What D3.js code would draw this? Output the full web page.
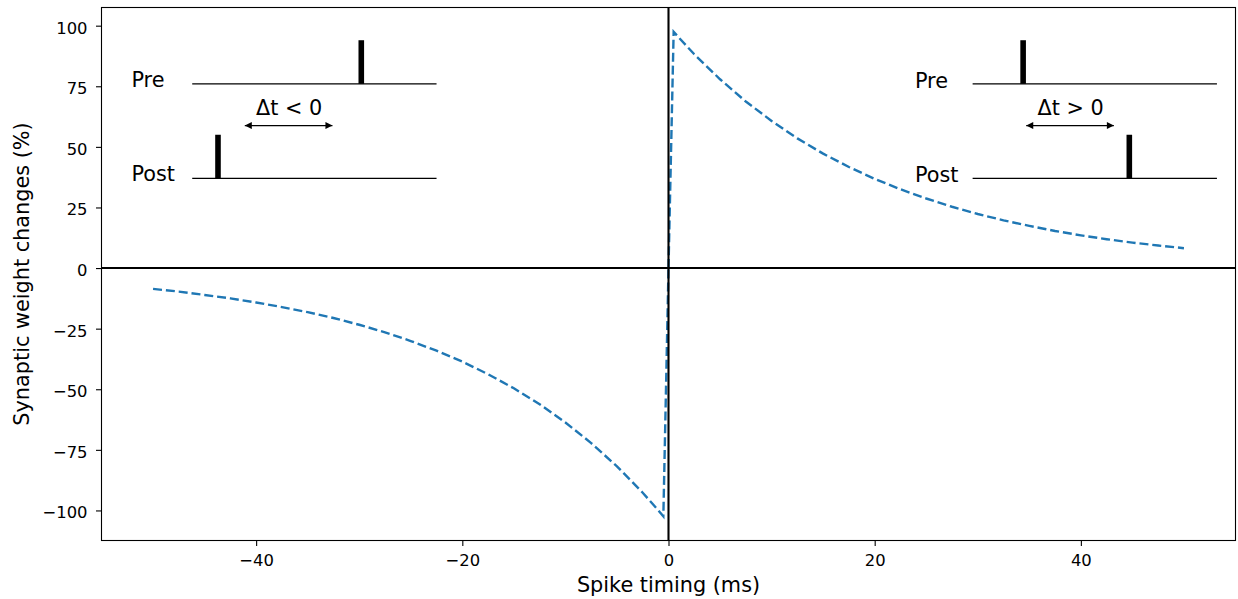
<!DOCTYPE html>
<html>
<head>
<meta charset="utf-8">
<script src="https://cdn.jsdelivr.net/npm/d3@7"></script>
<style>
  body { margin: 0; background: #fff; }
  text { font-family: "DejaVu Sans", sans-serif; }
</style>
</head>
<body>
<div id="chart"></div>
<script>
// data: spike timing (ms) vs weight change (%)
var ltd_t = [-50, -47.5, -45, -42.5, -40, -37.5, -35, -32.5, -30, -27.5, -25, -22.5, -20, -17.5, -15, -12.5, -10, -7.5, -5, -2.5, -1, -0.5, 0];
var ltd_w = [-8.6, -9.7, -11.1, -12.5, -14.2, -16.1, -18.2, -20.6, -23.4, -26.5, -30.1, -34.1, -38.6, -43.8, -49.6, -56.2, -63.7, -72.2, -81.8, -92.7, -99.9, -102.4, 0];
var ltp_t = [0, 0.5, 1, 2.5, 5, 7.5, 10, 12.5, 15, 17.5, 20, 22.5, 25, 27.5, 30, 32.5, 35, 37.5, 40, 42.5, 45, 47.5, 50];
var ltp_w = [0, 97.5, 95.1, 88.2, 77.9, 68.7, 60.7, 53.5, 47.2, 41.7, 36.8, 32.5, 28.7, 25.3, 22.3, 19.7, 17.4, 15.3, 13.5, 11.9, 10.5, 9.3, 8.2];
var x_ticks = [-40, -20, 0, 20, 40];
var y_ticks = [-100, -75, -50, -25, 0, 25, 50, 75, 100];

// sketch labels
var delta_labels = ['\u0394t < 0', '\u0394t > 0'];
var train_labels = ['Pre', 'Post'];

var width = 1238, height = 599;
var margin = {left: 101.5, right: 2.5, top: 7.5, bottom: 58.5};

var svg = d3.select('#chart').append('svg')
    .attr('width', width).attr('height', height);

var x = d3.scaleLinear().domain([-55, 55])
    .range([margin.left, width - margin.right]);
var y = d3.scaleLinear().domain([-112.4, 107.5])
    .range([height - margin.bottom, margin.top]);

var fmt = function(d) { return d < 0 ? '\u2212' + Math.abs(d) : '' + d; };

// axes
var xAxis = svg.append('g')
    .attr('transform', 'translate(0,' + (height - margin.bottom) + ')')
    .call(d3.axisBottom(x).tickValues(x_ticks).tickFormat(fmt).tickSize(5.5).tickPadding(8.5));
var yAxis = svg.append('g')
    .attr('transform', 'translate(' + margin.left + ',0)')
    .call(d3.axisLeft(y).tickValues(y_ticks).tickFormat(fmt).tickSize(5.5).tickPadding(8.5));
[xAxis, yAxis].forEach(function(a) {
    a.select('.domain').remove();
    a.selectAll('line').attr('stroke', '#000').attr('stroke-width', 1.1);
    a.selectAll('text').attr('font-size', '16.4px').attr('fill', '#000')
        .attr('font-family', '"DejaVu Sans", sans-serif');
});
yAxis.selectAll('text').attr('dy', '0.45em');

// frame
svg.append('rect')
    .attr('x', margin.left).attr('y', margin.top)
    .attr('width', width - margin.left - margin.right)
    .attr('height', height - margin.top - margin.bottom)
    .attr('fill', 'none').attr('stroke', '#000').attr('stroke-width', 1.1);

// STDP curves
var line = d3.line().x(function(d) { return x(d[0]); }).y(function(d) { return y(d[1]); });
[[ltd_t, ltd_w], [ltp_t, ltp_w]].forEach(function(s) {
    svg.append('path')
        .datum(d3.zip(s[0], s[1]))
        .attr('d', line)
        .attr('fill', 'none')
        .attr('stroke', '#1f77b4')
        .attr('stroke-width', 2.4)
        .attr('stroke-dasharray', '9 3.9');
});

// zero lines
svg.append('line')
    .attr('x1', margin.left).attr('x2', width - margin.right)
    .attr('y1', y(0)).attr('y2', y(0))
    .attr('stroke', '#000').attr('stroke-width', 2.1);
svg.append('line')
    .attr('x1', x(0)).attr('x2', x(0))
    .attr('y1', margin.top).attr('y2', height - margin.bottom)
    .attr('stroke', '#000').attr('stroke-width', 2.1);

// spike-train sketches (data coords)
var defs = svg.append('defs');
defs.append('marker').attr('id', 'head')
    .attr('viewBox', '0 0 10 10').attr('refX', 10).attr('refY', 5)
    .attr('markerWidth', 8).attr('markerHeight', 7)
    .attr('markerUnits', 'userSpaceOnUse')
    .attr('orient', 'auto-start-reverse')
    .append('path').attr('d', 'M0,0L10,5L0,10z').attr('fill', '#000');

var sketches = [
    {x0: -46.2, x1: -22.5, label_x: -52.1, pre: -29.8, post: -43.7, arrow: [-41.1, -32.6], text_x: -36.8, dy: 0},
    {x0: 29.5, x1: 53.2, label_x: 23.9, pre: 34.4, post: 44.7, arrow: [34.7, 43.2], text_x: 39, dy: 0.8}
];
var train_y = [76, 37];   // baselines of pre and post trains
var spike_h = 18;

sketches.forEach(function(s, i) {
    var g = svg.append('g');
    train_y.forEach(function(ty, j) {
        g.append('line')
            .attr('x1', x(s.x0)).attr('x2', x(s.x1))
            .attr('y1', y(ty)).attr('y2', y(ty))
            .attr('stroke', '#000').attr('stroke-width', 1.4);
        g.append('line')
            .attr('x1', x(j === 0 ? s.pre : s.post)).attr('x2', x(j === 0 ? s.pre : s.post))
            .attr('y1', y(ty)).attr('y2', y(ty + spike_h))
            .attr('stroke', '#000').attr('stroke-width', 5.6);
        g.append('text')
            .attr('x', x(s.label_x)).attr('y', y(ty) + (j === 0 ? 3.5 : 2.5) + s.dy)
            .attr('font-size', '20.8px')
            .text(train_labels[j]);
    });
    g.append('line')
        .attr('x1', x(s.arrow[0])).attr('x2', x(s.arrow[1]))
        .attr('y1', y(58.8)).attr('y2', y(58.8))
        .attr('stroke', '#000').attr('stroke-width', 1.2)
        .attr('marker-start', 'url(#head)').attr('marker-end', 'url(#head)');
    g.append('text')
        .attr('x', x(s.text_x)).attr('y', y(64) + 2)
        .attr('text-anchor', 'middle')
        .attr('font-size', '20.8px')
        .text(delta_labels[i]);
});

// axis titles
svg.append('text')
    .attr('x', (margin.left + width - margin.right) / 2).attr('y', 592)
    .attr('text-anchor', 'middle').attr('font-size', '20.8px')
    .text('Spike timing (ms)');
svg.append('text')
    .attr('transform', 'translate(28.5,' + (margin.top + height - margin.bottom) / 2 + ') rotate(-90)')
    .attr('text-anchor', 'middle').attr('font-size', '20.8px')
    .text('Synaptic weight changes (%)');
</script>
</body>
</html>
